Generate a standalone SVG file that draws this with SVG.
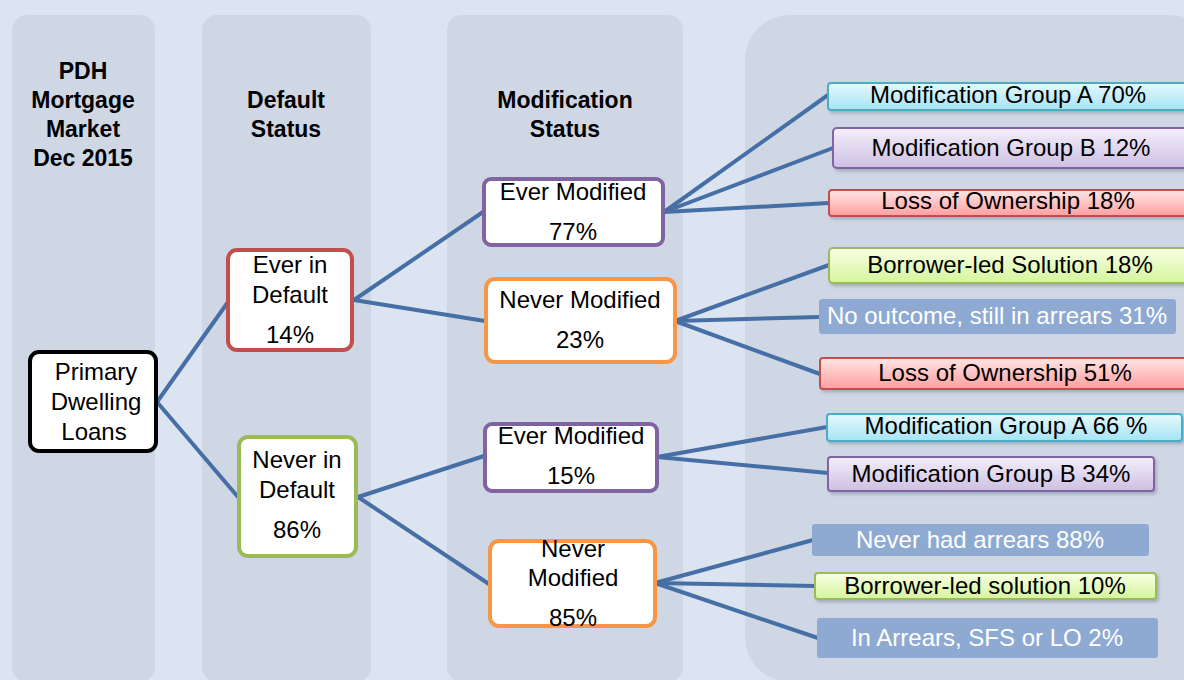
<svg xmlns="http://www.w3.org/2000/svg" width="1184" height="680" viewBox="0 0 1184 680">
  <defs>
    <linearGradient id="gCyan" x1="0" y1="0" x2="0" y2="1">
      <stop offset="0" stop-color="#e6f9fe"/>
      <stop offset="1" stop-color="#a6e3f3"/>
    </linearGradient>
    <linearGradient id="gPurple" x1="0" y1="0" x2="0" y2="1">
      <stop offset="0" stop-color="#f4effa"/>
      <stop offset="1" stop-color="#cdbfe2"/>
    </linearGradient>
    <linearGradient id="gRed" x1="0" y1="0" x2="0" y2="1">
      <stop offset="0" stop-color="#ffe6e6"/>
      <stop offset="1" stop-color="#ff9e9e"/>
    </linearGradient>
    <linearGradient id="gGreen" x1="0" y1="0" x2="0" y2="1">
      <stop offset="0" stop-color="#f8ffe4"/>
      <stop offset="1" stop-color="#d4f59c"/>
    </linearGradient>
    <filter id="shadow" x="-5%" y="-30%" width="115%" height="170%">
      <feDropShadow dx="2" dy="2.5" stdDeviation="1.5" flood-color="#5a6478" flood-opacity="0.35"/>
    </filter>
  </defs>
  <style>
    .col { fill: #cfd7e5; }
    .hdr { font-family: "Liberation Sans", Arial, sans-serif; font-weight: bold; font-size: 23px; fill: #000; text-anchor: middle; }
    .t { font-family: "Liberation Sans", Arial, sans-serif; font-size: 24px; fill: #000; text-anchor: middle; }
    .tw { font-family: "Liberation Sans", Arial, sans-serif; font-size: 24px; fill: #ffffff; text-anchor: middle; }
    .node { fill: #ffffff; stroke-width: 4; }
    .leaf { stroke-width: 2; filter: url(#shadow); }
    .flat { fill: #8eaad2; }
    .cyan { fill: url(#gCyan); stroke: #4bacc6; }
    .purple { fill: url(#gPurple); stroke: #8064a2; }
    .red { fill: url(#gRed); stroke: #c0504d; }
    .green { fill: url(#gGreen); stroke: #9bbb59; }
    #connectors line { stroke: #466fa6; stroke-width: 4; stroke-linecap: round; }
  </style>

  <!-- page background and column bands -->
  <rect x="0" y="0" width="1184" height="680" fill="#dbe4f0"/>
  <rect class="col" x="12" y="15" width="143" height="667" rx="15"/>
  <rect class="col" x="202" y="15" width="169" height="667" rx="15"/>
  <rect class="col" x="447" y="15" width="236" height="667" rx="15"/>
  <rect class="col" x="745" y="15" width="470" height="667" rx="45"/>

  <!-- column headings -->
  <g id="header-market">
    <text class="hdr" x="83" y="79">PDH</text>
    <text class="hdr" x="83" y="108">Mortgage</text>
    <text class="hdr" x="83" y="137">Market</text>
    <text class="hdr" x="83" y="166">Dec 2015</text>
  </g>
  <g id="header-default">
    <text class="hdr" x="286" y="108">Default</text>
    <text class="hdr" x="286" y="137">Status</text>
  </g>
  <g id="header-modification">
    <text class="hdr" x="565" y="108">Modification</text>
    <text class="hdr" x="565" y="137">Status</text>
  </g>

  <!-- connectors -->
  <g id="connectors">
    <line x1="157" y1="402" x2="228" y2="302"/>
    <line x1="157" y1="402" x2="238" y2="497"/>
    <line x1="354" y1="300" x2="483" y2="212"/>
    <line x1="354" y1="300" x2="485" y2="321"/>
    <line x1="358" y1="497" x2="484" y2="456"/>
    <line x1="358" y1="497" x2="489" y2="584"/>
    <line x1="664" y1="212" x2="828" y2="95"/>
    <line x1="664" y1="212" x2="833" y2="148"/>
    <line x1="664" y1="212" x2="829" y2="203"/>
    <line x1="675" y1="321" x2="829" y2="265"/>
    <line x1="675" y1="321" x2="820" y2="317"/>
    <line x1="675" y1="321" x2="820" y2="374"/>
    <line x1="657" y1="457" x2="827" y2="427"/>
    <line x1="657" y1="457" x2="828" y2="473"/>
    <line x1="655" y1="583" x2="813" y2="540"/>
    <line x1="655" y1="583" x2="815" y2="586"/>
    <line x1="655" y1="583" x2="818" y2="638"/>
  </g>

  <!-- root -->
  <g id="primary-loans">
    <rect class="node" x="30" y="352" width="126" height="99" rx="9" stroke="#000000" stroke-width="5"/>
    <text class="t" x="96" y="380">Primary</text>
    <text class="t" x="96" y="410">Dwelling</text>
    <text class="t" x="94" y="440">Loans</text>
  </g>

  <!-- default status -->
  <g id="ever-in-default">
    <rect class="node" x="228" y="250" width="124" height="100" rx="9" stroke="#c0504d"/>
    <text class="t" x="290" y="273">Ever in</text>
    <text class="t" x="290" y="303">Default</text>
    <text class="t" x="290" y="343">14%</text>
  </g>
  <g id="never-in-default">
    <rect class="node" x="239" y="437" width="117" height="119" rx="9" stroke="#9bbb59"/>
    <text class="t" x="297" y="468">Never in</text>
    <text class="t" x="297" y="498">Default</text>
    <text class="t" x="297" y="538">86%</text>
  </g>

  <!-- modification status -->
  <g id="ever-modified-77">
    <rect class="node" x="484" y="179" width="179" height="66" rx="7" stroke="#8064a2"/>
    <text class="t" x="573" y="200">Ever Modified</text>
    <text class="t" x="573" y="240">77%</text>
  </g>
  <g id="never-modified-23">
    <rect class="node" x="486" y="279" width="189" height="83" rx="9" stroke="#f79646"/>
    <text class="t" x="580" y="308">Never Modified</text>
    <text class="t" x="580" y="348">23%</text>
  </g>
  <g id="ever-modified-15">
    <rect class="node" x="485" y="424" width="172" height="67" rx="7" stroke="#8064a2"/>
    <text class="t" x="571" y="444">Ever Modified</text>
    <text class="t" x="571" y="484">15%</text>
  </g>
  <g id="never-modified-85">
    <rect class="node" x="490" y="541" width="165" height="85" rx="9" stroke="#f79646"/>
    <text class="t" x="573" y="557">Never</text>
    <text class="t" x="573" y="586">Modified</text>
    <text class="t" x="573" y="626">85%</text>
  </g>

  <!-- outcomes -->
  <g id="mod-group-a-70">
    <rect class="leaf cyan" x="828" y="83" width="364" height="27" rx="3"/>
    <text class="t" x="1008" y="103">Modification Group A 70%</text>
  </g>
  <g id="mod-group-b-12">
    <rect class="leaf purple" x="833" y="128" width="360" height="40" rx="4"/>
    <text class="t" x="1011" y="156">Modification Group B 12%</text>
  </g>
  <g id="loss-ownership-18">
    <rect class="leaf red" x="829" y="190" width="364" height="26" rx="3"/>
    <text class="t" x="1008" y="209">Loss of Ownership 18%</text>
  </g>
  <g id="borrower-led-18">
    <rect class="leaf green" x="829" y="248" width="364" height="35" rx="4"/>
    <text class="t" x="1010" y="273">Borrower-led Solution 18%</text>
  </g>
  <g id="no-outcome-31">
    <rect class="flat" x="819" y="299" width="357" height="35" rx="3"/>
    <text class="tw" x="997" y="324">No outcome, still in arrears 31%</text>
  </g>
  <g id="loss-ownership-51">
    <rect class="leaf red" x="820" y="358" width="372" height="31" rx="3"/>
    <text class="t" x="1005" y="381">Loss of Ownership 51%</text>
  </g>
  <g id="mod-group-a-66">
    <rect class="leaf cyan" x="827" y="414" width="355" height="27" rx="3"/>
    <text class="t" x="1006" y="434">Modification Group A 66 %</text>
  </g>
  <g id="mod-group-b-34">
    <rect class="leaf purple" x="828" y="457" width="326" height="34" rx="3"/>
    <text class="t" x="991" y="482">Modification Group B 34%</text>
  </g>
  <g id="never-had-arrears-88">
    <rect class="flat" x="812" y="524" width="337" height="32" rx="3"/>
    <text class="tw" x="980" y="548">Never had arrears 88%</text>
  </g>
  <g id="borrower-led-10">
    <rect class="leaf green" x="815" y="573" width="341" height="26" rx="3"/>
    <text class="t" x="985" y="594">Borrower-led solution 10%</text>
  </g>
  <g id="in-arrears-2">
    <rect class="flat" x="817" y="618" width="341" height="40" rx="3"/>
    <text class="tw" x="987" y="646">In Arrears, SFS or LO 2%</text>
  </g>
</svg>
